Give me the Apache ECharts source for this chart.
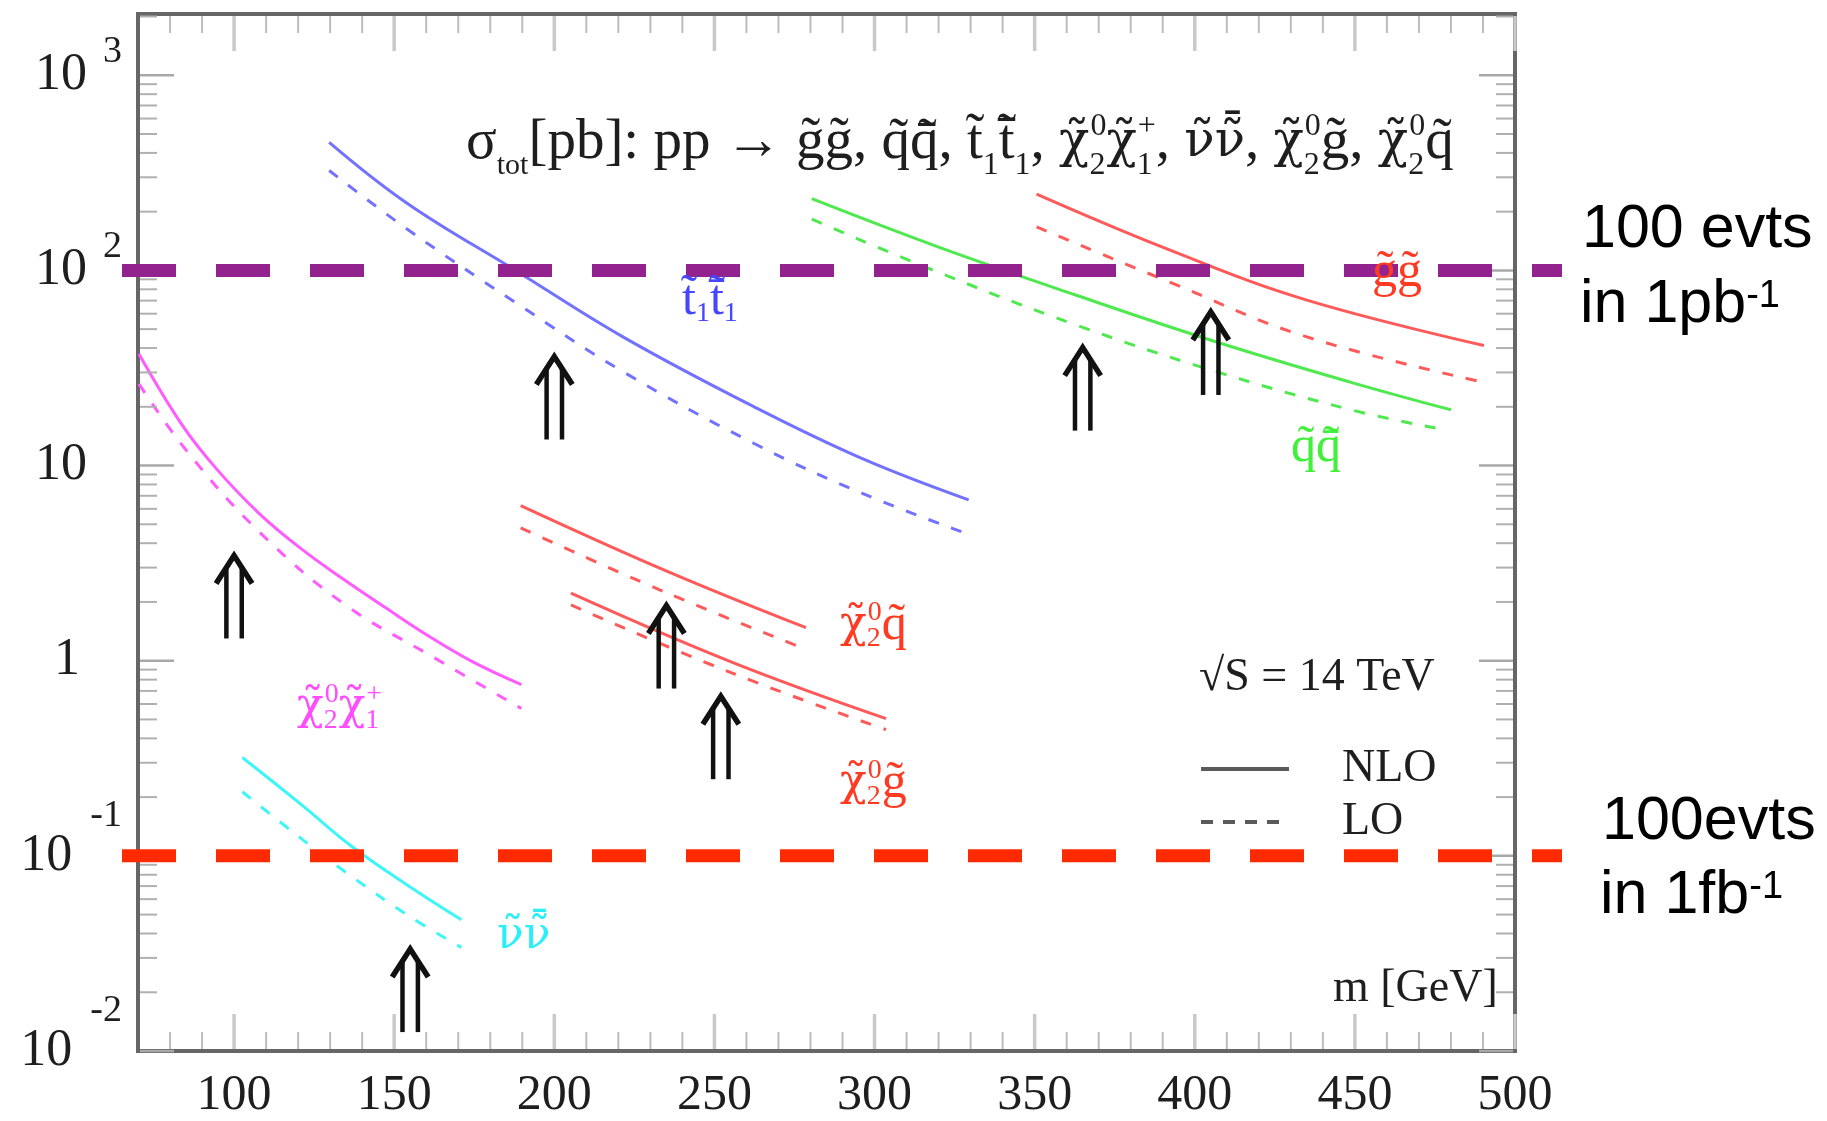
<!DOCTYPE html>
<html>
<head>
<meta charset="utf-8">
<script src="https://cdn.jsdelivr.net/npm/echarts@6.0.0/dist/echarts.min.js"></script>
<style>
html,body{margin:0;padding:0;background:#ffffff;}
#chart{width:1827px;height:1121px;}
</style>
</head>
<body>
<div id="chart"></div>
<script>
// ---------------- data ----------------
const X_MIN = 70, X_MAX = 500;
const Y_MIN = 0.01, Y_MAX = 2060;
const xTickLabels = [100, 150, 200, 250, 300, 350, 400, 450, 500];
const yTickLabels = [0.01, 0.1, 1, 10, 100, 1000];

// gluino pair  (g~ g~)
const mass_gg = [350.6, 391.5, 434.5, 490.3];
const nlo_gg  = [246, 128.5, 70.8, 41.2];
const lo_gg   = [167, 88, 45.9, 26.7];

// squark pair (q~ q~bar)
const massNlo_qq = [280.4, 319.8, 362.8, 405.8, 448.8, 480];
const nlo_qq     = [233, 132, 74.8, 43.5, 26.7, 19.3];
const massLo_qq  = [280.4, 319.8, 362.8, 405.8, 448.8, 476.7];
const lo_qq      = [183, 98, 52.6, 30.6, 19.3, 15.4];

// stop pair (t~1 t~1bar)
const mass_tt = [129.7, 154, 187.9, 221.7, 262.4, 296.2, 329.4];
const nlo_tt  = [453, 221, 100, 45.4, 20.0, 10.85, 6.67];
const lo_tt   = [325, 163, 68.4, 30.1, 12.97, 7.2, 4.44];

// chi20 chi1+
const massNlo_cc = [70.3, 83.7, 94.3, 107.7, 121, 134.4, 147.7, 161, 174.4, 189.7];
const nlo_cc     = [37.3, 16.2, 9.7, 5.71, 3.74, 2.60, 1.85, 1.33, 0.99, 0.755];
const massLo_cc  = [70.3, 85, 107.7, 134.4, 161, 189.7];
const lo_cc      = [26.2, 12.0, 4.6, 1.95, 1.07, 0.569];

// sneutrino pair
const mass_nn = [102.6, 121, 137, 154.4, 171];
const nlo_nn  = [0.319, 0.183, 0.111, 0.0703, 0.047];
const lo_nn   = [0.213, 0.1225, 0.0778, 0.0494, 0.0339];

// chi20 q~
const mass_cq = [189.5, 235.3, 278.6];
const nlo_cq  = [6.24, 2.87, 1.476];
const lo_cq   = [4.79, 2.22, 1.144];

// chi20 g~
const mass_cg = [205.2, 255.6, 303.6];
const nlo_cg  = [2.22, 0.981, 0.505];
const lo_cg   = [1.93, 0.863, 0.443];

// double arrows: mass and cross-section at the arrow foot
const arrowMass = [100, 155, 200, 235, 252, 365, 405];
const arrowBase = [1.30, 0.0125, 13.6, 0.72, 0.247, 15.1, 23.0];

// horizontal reference lines: 100 events in 1 pb^-1 and in 1 fb^-1
const thresholdValues = [100, 0.1];

// ---------------- helpers ----------------
const SERIF = '"Liberation Serif","Times New Roman","DejaVu Serif",serif';
const GREEK = '"DejaVu Serif","Liberation Serif",serif';
const SANS = '"Liberation Sans",Arial,"DejaVu Sans",sans-serif';
const T = '\u0303', B = '\u0304';

const xMinorTicks = [];
for (let v = X_MIN + 10; v < X_MAX; v += 10) if (v % 50 !== 0) xMinorTicks.push(v);
const yMinorTicks = [];
yTickLabels.forEach(d => { for (let k = 2; k <= 9; k++) if (k * d <= Y_MAX) yMinorTicks.push(k * d); });

const xTickData = xTickLabels.map(v => [v, Y_MIN, 1]).concat(xMinorTicks.map(v => [v, Y_MIN, 0]));
const yTickData = yTickLabels.map(v => [X_MIN, v, 1]).concat(yMinorTicks.map(v => [X_MIN, v, 0]));

function pts(ms, vs) { return ms.map((m, i) => [m, vs[i]]); }

const curveDefs = [
  { color: '#ff5a5a', mN: mass_gg, n: nlo_gg, mL: mass_gg, l: lo_gg },
  { color: '#4fe94f', mN: massNlo_qq, n: nlo_qq, mL: massLo_qq, l: lo_qq },
  { color: '#7272ff', mN: mass_tt, n: nlo_tt, mL: mass_tt, l: lo_tt },
  { color: '#ff5cff', mN: massNlo_cc, n: nlo_cc, mL: massLo_cc, l: lo_cc },
  { color: '#3ff6f6', mN: mass_nn, n: nlo_nn, mL: mass_nn, l: lo_nn },
  { color: '#ff5a5a', mN: mass_cq, n: nlo_cq, mL: mass_cq, l: lo_cq },
  { color: '#ff5a5a', mN: mass_cg, n: nlo_cg, mL: mass_cg, l: lo_cg }
];

const series = [];
curveDefs.forEach(c => {
  series.push({ type: 'line', xAxisIndex: 0, yAxisIndex: 0, data: pts(c.mN, c.n), smooth: 0.4,
    symbol: 'none', silent: true, z: 2, lineStyle: { color: c.color, width: 3 } });
  series.push({ type: 'line', xAxisIndex: 0, yAxisIndex: 0, data: pts(c.mL, c.l), smooth: 0.4,
    symbol: 'none', silent: true, z: 2, lineStyle: { color: c.color, width: 3, type: [11, 13] } });
});

// legend dummies (line sample only, no symbol)
series.push({ name: 'NLO', type: 'line', data: [], symbol: 'none', itemStyle: { color: 'rgba(0,0,0,0)', borderWidth: 0 }, lineStyle: { color: '#5a5a5a', width: 4 } });
series.push({ name: 'LO', type: 'line', data: [], symbol: 'none', itemStyle: { color: 'rgba(0,0,0,0)', borderWidth: 0 }, lineStyle: { color: '#5a5a5a', width: 4, type: [12, 10] } });

// threshold lines on the wide overlay grid
const thrColors = ['#92228e', '#ff2a00'];
thresholdValues.forEach((v, i) => {
  series.push({ type: 'line', xAxisIndex: 1, yAxisIndex: 1, data: [[0, v], [1, v]], symbol: 'none', silent: true, z: 5,
    lineStyle: { color: thrColors[i], width: 13, type: [54, 40], cap: 'butt' } });
});

// axis ticks on all four sides
series.push({ type: 'custom', xAxisIndex: 0, yAxisIndex: 0, silent: true, z: 4, data: xTickData,
  renderItem: (params, api) => {
    const v = api.value(0), major = api.value(2);
    const b = api.coord([v, Y_MIN]), t = api.coord([v, Y_MAX]);
    const len = major ? 37 : 19;
    const style = { stroke: major ? '#c9c9c9' : '#bcbcbc', lineWidth: major ? 3.5 : 2 };
    return { type: 'group', children: [
      { type: 'line', shape: { x1: b[0], y1: b[1] - 2, x2: b[0], y2: b[1] - len }, style },
      { type: 'line', shape: { x1: t[0], y1: t[1] + 2, x2: t[0], y2: t[1] + len }, style }
    ] };
  } });
series.push({ type: 'custom', xAxisIndex: 0, yAxisIndex: 0, silent: true, z: 4, data: yTickData,
  renderItem: (params, api) => {
    const v = api.value(1), major = api.value(2);
    const l = api.coord([X_MIN, v]), r = api.coord([X_MAX, v]);
    const len = major ? 36 : 19;
    const style = { stroke: major ? '#a8a8a8' : '#b0b0b0', lineWidth: major ? 2.5 : 2 };
    return { type: 'group', children: [
      { type: 'line', shape: { x1: l[0] + 2, y1: l[1], x2: l[0] + len, y2: l[1] }, style },
      { type: 'line', shape: { x1: r[0] - 2, y1: r[1], x2: r[0] - len, y2: r[1] }, style }
    ] };
  } });

// double arrows
series.push({ type: 'custom', xAxisIndex: 0, yAxisIndex: 0, silent: true, z: 6, data: pts(arrowMass, arrowBase),
  renderItem: (params, api) => {
    const p = api.coord([api.value(0), api.value(1)]);
    const x = p[0], yb = p[1], yt = yb - 86;
    const st = { stroke: '#111', lineWidth: 5.5, fill: null, lineJoin: 'miter' };
    return { type: 'group', children: [
      { type: 'polyline', shape: { points: [[x - 18, yt + 31], [x, yt + 3], [x + 18, yt + 31]] }, style: st },
      { type: 'line', shape: { x1: x - 7.7, y1: yt + 14, x2: x - 7.7, y2: yb }, style: { stroke: '#111', lineWidth: 4.5 } },
      { type: 'line', shape: { x1: x + 7.7, y1: yt + 14, x2: x + 7.7, y2: yb }, style: { stroke: '#111', lineWidth: 4.5 } }
    ] };
  } });

// ---------------- text ----------------
function tok(fs, color, extra, fam) {
  return Object.assign({ fontFamily: fam || SERIF, fontSize: fs, color: color, fontWeight: 'normal' }, extra || {});
}
function richSet(color, fs, sfs, pad) {
  return {
    m: tok(fs, color),
    k: tok(Math.round(fs * 0.88), color, {}, GREEK),
    d: tok(sfs, color, { padding: [pad, 0, 0, 0] }),
    d0: tok(sfs, color, { padding: [pad, 0, 0, 0], width: 1 }),
    u: tok(sfs, color, { padding: [0, 0, pad, 0] })
  };
}
function label(text, left, baseline, fs, lineH, rich, color, fam, mid) {
  return { text: text, left: left, top: Math.round(baseline - (mid || 0.3375) * fs - lineH / 2), padding: 0, itemGap: 0,
    textStyle: { fontFamily: fam || SERIF, fontSize: fs, fontWeight: 'normal', color: color, rich: rich } };
}

const TC = '#1e1e1e';
const mainRich = {
  n: tok(57, TC),
  g: tok(50, TC, {}, GREEK),
  t: tok(30, TC, { padding: [46, 0, 0, 0] }),
  s: tok(32, TC, { padding: [46, 0, 0, 0] }),
  s0: tok(32, TC, { padding: [46, 0, 0, 0], width: 1 }),
  p: tok(32, TC, { padding: [0, 0, 32, 0] })
};
const mainText = '{n|σ}{t|tot}{n|[pb]: pp → g' + T + 'g' + T + ', q' + T + 'q' + T + B + ', t' + T + '}{s|1}{n|t' + T + B + '}{s|1}' +
  '{n|, }{g|χ' + T + '}{s0|2}{p|0}{g|χ' + T + '}{s0|1}{p|+}{n|, }{g|ν' + T + 'ν' + T + B + '}{n|, }{g|χ' + T + '}{s0|2}{p|0}' +
  '{n|g' + T + ', }{g|χ' + T + '}{s0|2}{p|0}{n|q' + T + '}';

const LFS = 50, LSFS = 28, LPAD = 26, LH = LSFS + LPAD;
const cBlue = '#4646ff', cRed = '#ff3a22', cGreen = '#40f03a', cMag = '#ff4cff', cCyan = '#2aeefa';

const titles = [
  label(mainText, 466, 162, 57, 78, mainRich, TC),
  label('√S = 14 TeV', 1199, 694, 46, 46, undefined, TC),
  label('m [GeV]', 1333, 1005, 46, 46, undefined, TC),
  label('{m|t' + T + '}{d|1}{m|t' + T + B + '}{d|1}', 682, 318, LFS, LH, richSet(cBlue, LFS, LSFS, LPAD), cBlue),
  label('{m|g' + T + 'g' + T + '}', 1372, 290, LFS, LFS, richSet(cRed, LFS, LSFS, LPAD), cRed),
  label('{m|q' + T + 'q' + T + B + '}', 1291, 465, LFS, LFS, richSet(cGreen, LFS, LSFS, LPAD), cGreen),
  label('{k|χ' + T + '}{d0|2}{u|0}{m|q' + T + '}', 840, 643, LFS, LH, richSet(cRed, LFS, LSFS, LPAD), cRed),
  label('{k|χ' + T + '}{d0|2}{u|0}{m|g' + T + '}', 840, 801, LFS, LH, richSet(cRed, LFS, LSFS, LPAD), cRed),
  label('{k|χ' + T + '}{d0|2}{u|0}{k|χ' + T + '}{d0|1}{u|+}', 297, 725, LFS, LH, richSet(cMag, LFS, LSFS, LPAD), cMag),
  label('{k|ν' + T + 'ν' + T + B + '}', 497, 957, LFS, LFS, richSet(cCyan, LFS, LSFS, LPAD), cCyan),
  label('100 evts', 1582, 252, 61, 61, undefined, '#000', SANS, 0.3465),
  label('{a|in 1pb}{u|-1}', 1580, 327, 61, 61, { a: tok(61, '#000', {}, SANS), u: tok(38, '#000', { padding: [0, 0, 18, 0] }, SANS) }, '#000', SANS, 0.3465),
  label('100evts', 1602, 844, 61, 61, undefined, '#000', SANS, 0.3465),
  label('{a|in 1fb}{u|-1}', 1600, 918, 61, 61, { a: tok(61, '#000', {}, SANS), u: tok(38, '#000', { padding: [0, 0, 18, 0] }, SANS) }, '#000', SANS, 0.3465)
];

const yRich = {
  b: tok(52, TC),
  ep: tok(38, TC, { padding: [0, 0, 46, 16] }),
  en: tok(38, TC, { padding: [0, 0, 80, 18] }),
  ten: tok(52, TC, { padding: [0, 35, 0, 0] }),
  one: tok(52, TC, { padding: [0, 42, 0, 0] })
};

const option = {
  animation: false,
  backgroundColor: '#ffffff',
  title: titles,
  legend: {
    data: ['NLO', 'LO'], orient: 'vertical', left: 1199, top: 746, padding: 0, itemGap: 7,
    itemWidth: 88, itemHeight: 14, selectedMode: false,
    itemStyle: { opacity: 0 },
    lineStyle: { width: 4 },
    textStyle: { fontFamily: SERIF, fontSize: 46, color: TC, lineHeight: 40, padding: [0, 0, 0, 48] }
  },
  grid: [
    { left: 138, right: 312, top: 14, bottom: 70, show: true, borderColor: '#666666', borderWidth: 4,
      backgroundColor: 'rgba(0,0,0,0)', containLabel: false, outerBoundsMode: 'none' },
    { left: 122, right: 265, top: 14, bottom: 70, show: false, containLabel: false, outerBoundsMode: 'none' }
  ],
  xAxis: [
    { gridIndex: 0, type: 'value', min: X_MIN, max: X_MAX, interval: 10,
      axisLine: { show: false }, axisTick: { show: false }, splitLine: { show: false },
      axisLabel: { margin: 20, fontFamily: SERIF, fontSize: 50, color: TC,
        formatter: v => xTickLabels.indexOf(Math.round(v)) >= 0 ? String(Math.round(v)) : '' } },
    { gridIndex: 1, type: 'value', min: 0, max: 1, show: false }
  ],
  yAxis: [
    { gridIndex: 0, type: 'log', logBase: 10, min: Y_MIN, max: Y_MAX, splitNumber: 5,
      axisLine: { show: false }, axisTick: { show: false }, splitLine: { show: false }, minorTick: { show: false },
      axisLabel: { margin: 16, rich: yRich,
        formatter: v => {
          const lg = Math.log10(v), e = Math.round(lg);
          if (Math.abs(lg - e) > 1e-6) return '';
          if (e === 0) return '{one|1}';
          if (e === 1) return '{ten|10}';
          if (e > 0) return '{b|10}{ep|' + e + '}';
          return '{b|10}{en|-' + (-e) + '}';
        } } },
    { gridIndex: 1, type: 'log', logBase: 10, min: Y_MIN, max: Y_MAX, show: false }
  ],
  series: series
};

const chart = echarts.init(document.getElementById('chart'), null, { renderer: 'canvas' });
chart.setOption(option);
</script>
</body>
</html>
